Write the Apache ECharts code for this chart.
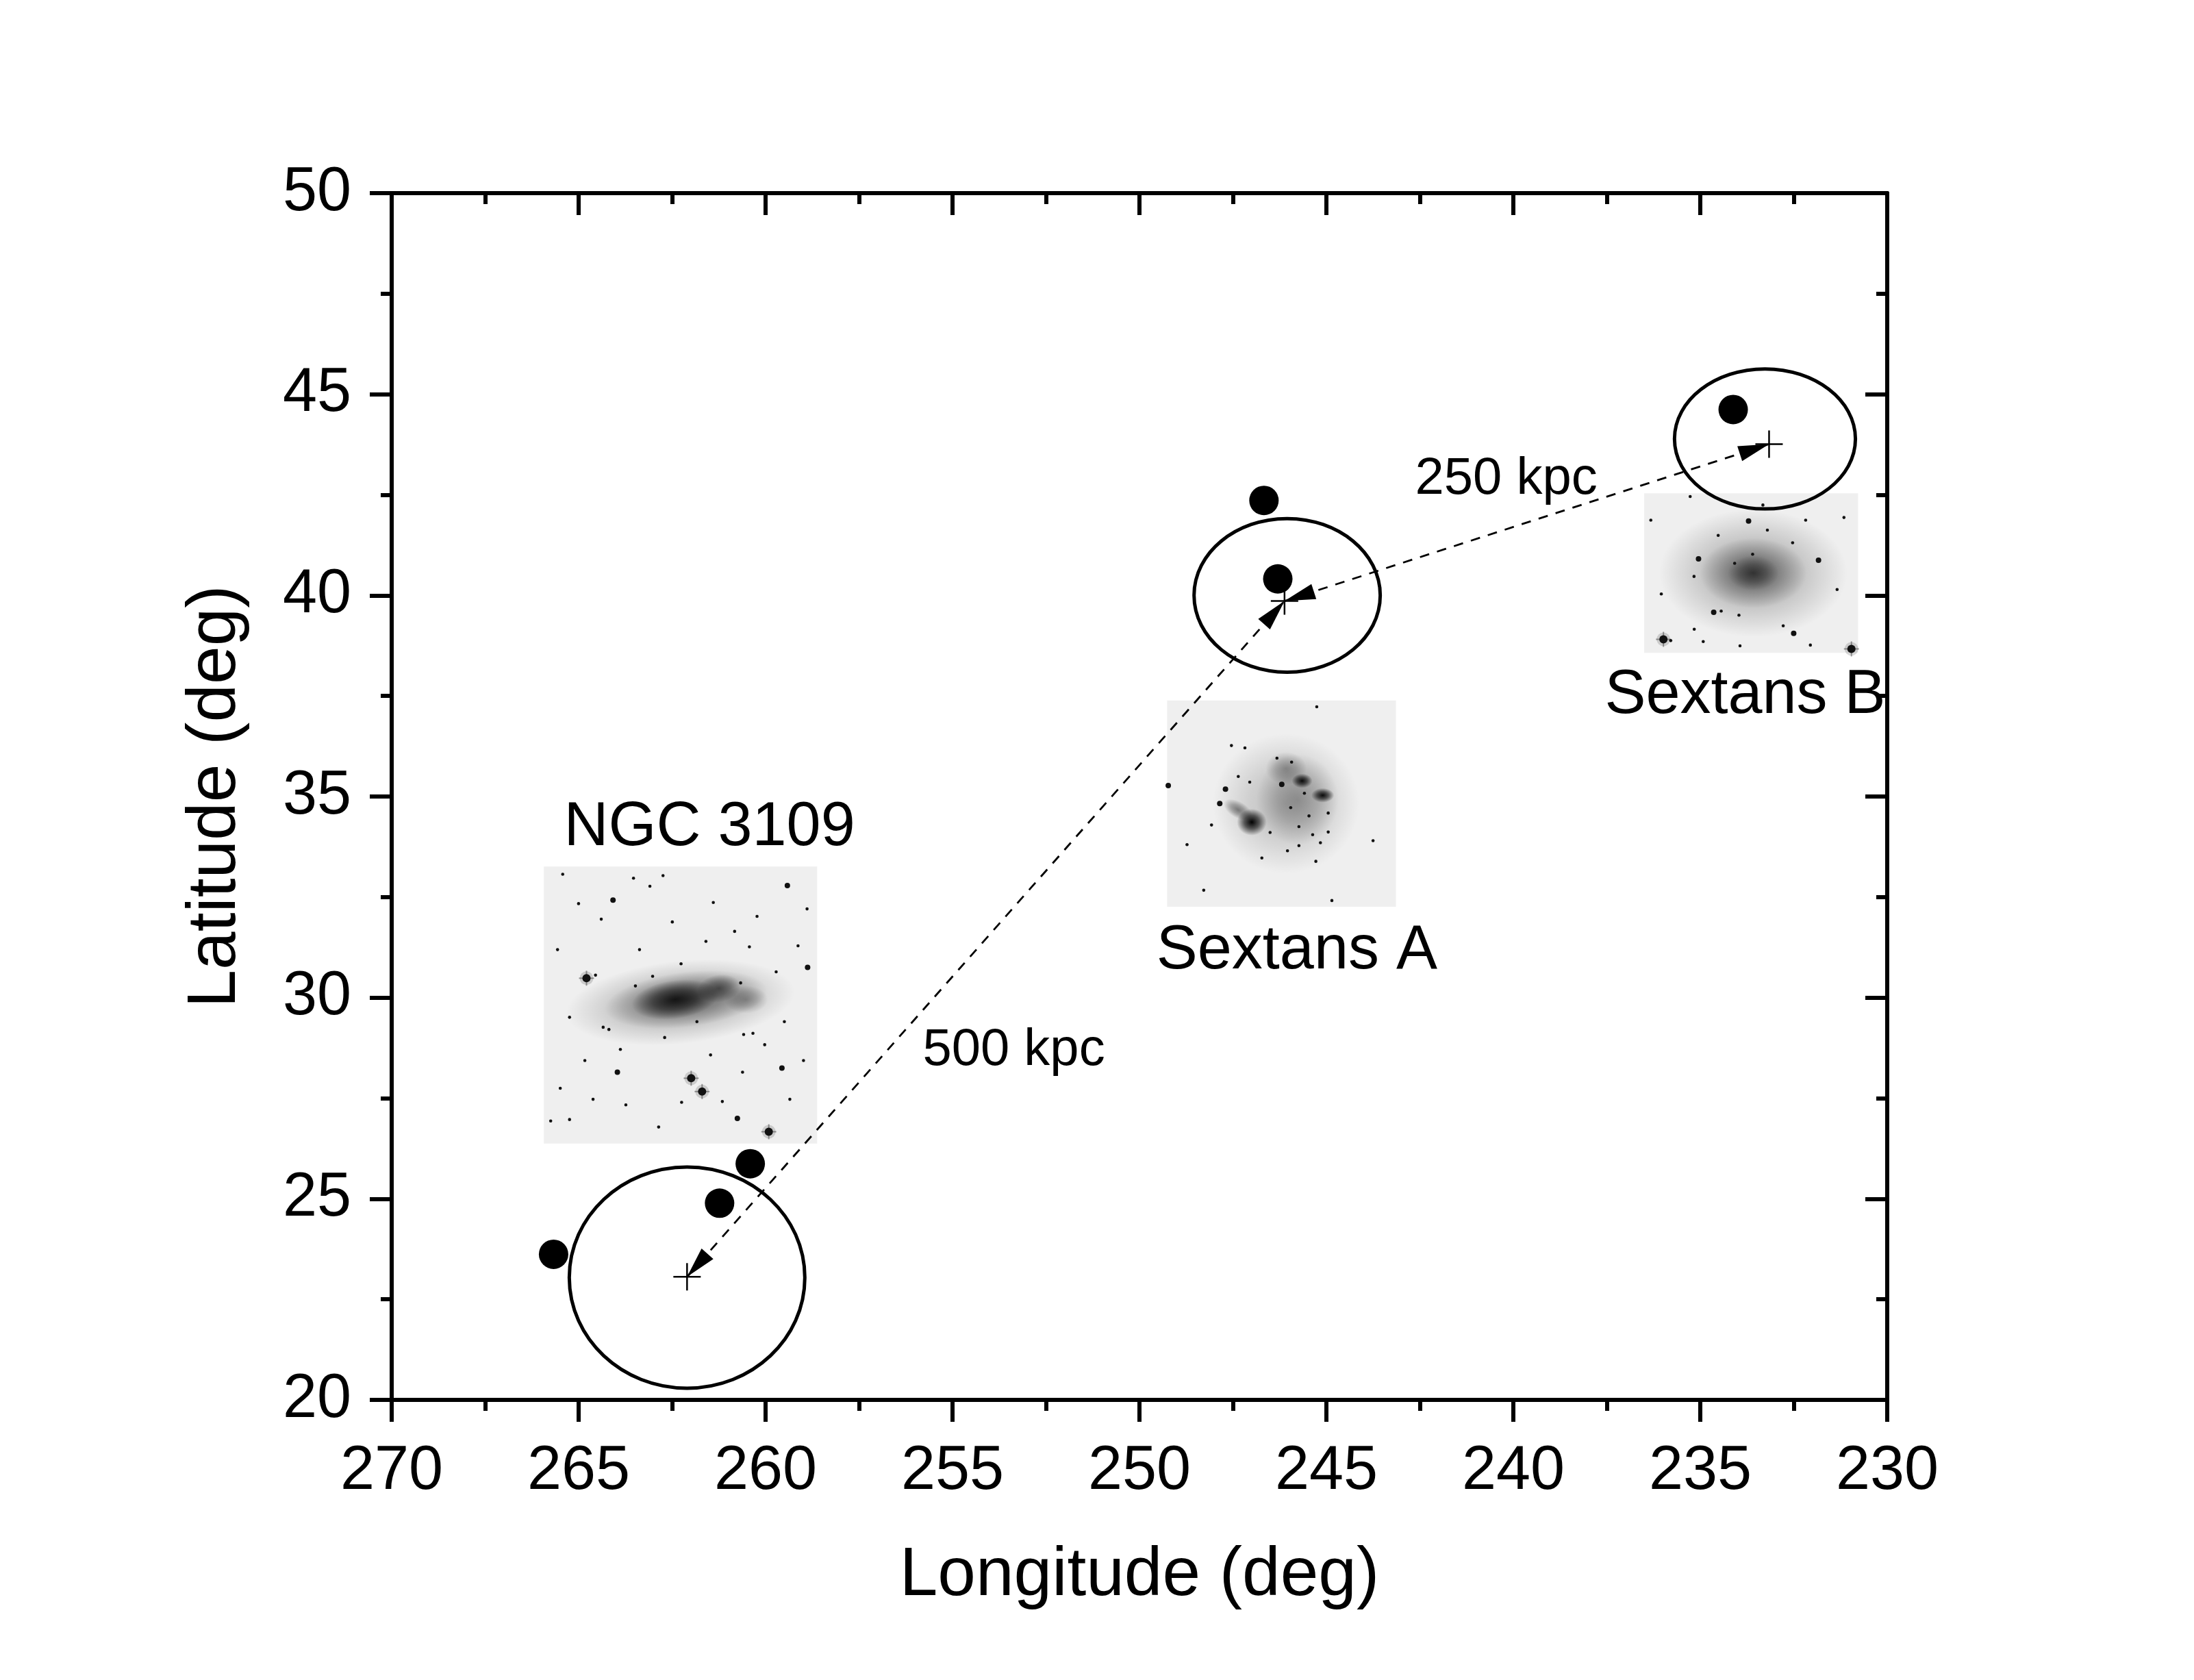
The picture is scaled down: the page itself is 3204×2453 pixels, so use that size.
<!DOCTYPE html>
<html>
<head>
<meta charset="utf-8">
<title>NGC 3109 / Sextans A / Sextans B</title>
<script src="https://cdn.jsdelivr.net/npm/echarts@6/dist/echarts.min.js"></script>
<style>
html, body { margin: 0; padding: 0; background: #fff; }
#chart { width: 3204px; height: 2453px; }
</style>
</head>
<body>
<div id="chart"></div>
<script>
// ---- data ----
var lonMin = 230, lonMax = 270;
var latMin = 20, latMax = 50;

// galaxy names and their centre crosses
var galaxyNames = ['NGC 3109', 'Sextans A', 'Sextans B'];
var crossLon = [262.10, 246.12, 233.16];
var crossLat = [23.06, 39.86, 43.76];

// error ellipses (centre and half axes, in degrees)
var ellLon = [262.10, 246.05, 233.27];
var ellLat = [23.04, 40.00, 43.89];
var ellRLon = [3.15, 2.49, 2.42];
var ellRLat = [2.75, 1.91, 1.74];

// filled dots
var dotLon = [265.67, 261.23, 260.41, 246.67, 246.30, 234.12];
var dotLat = [23.62, 24.89, 25.87, 42.36, 40.41, 44.62];

// distance arrows (between crosses)
var arrowFrom = [0, 1];
var arrowTo = [1, 2];
var arrowText = ['500 kpc', '250 kpc'];
var arrowTextLon = [253.36, 240.19];
var arrowTextLat = [28.79, 42.98];

// galaxy name labels
var nameLon = [261.50, 245.79, 233.80];
var nameLat = [34.33, 31.27, 37.62];

// image frames
var imgLonL = [265.93, 249.26, 236.50];
var imgLonR = [258.62, 243.14, 230.78];
var imgLatT = [33.26, 37.39, 42.54];
var imgLatB = [26.37, 32.26, 38.57];

// galaxy light inside each frame: [fx, fy, rx, ry, rot, alpha]
var ngcBlobs = [
    [0.50, 0.49, 0.42, 0.15, 6, 0.30],
    [0.52, 0.48, 0.30, 0.10, 7, 0.45],
    [0.48, 0.48, 0.16, 0.07, 8, 0.80],
    [0.64, 0.44, 0.08, 0.05, 10, 0.50],
    [0.74, 0.48, 0.08, 0.05, 0, 0.30]
];
var sexABlobs = [
    [0.52, 0.50, 0.32, 0.34, 0, 0.22],
    [0.57, 0.48, 0.18, 0.22, 0, 0.28],
    [0.52, 0.33, 0.09, 0.08, 0, 0.30],
    [0.37, 0.59, 0.065, 0.065, 0, 1.0],
    [0.31, 0.53, 0.07, 0.04, -30, 0.45],
    [0.59, 0.39, 0.045, 0.035, 0, 0.95],
    [0.68, 0.46, 0.05, 0.035, 0, 0.95]
];
var sexBBlobs = [
    [0.51, 0.50, 0.44, 0.40, 0, 0.30],
    [0.51, 0.50, 0.25, 0.22, 0, 0.45],
    [0.51, 0.50, 0.12, 0.11, 0, 0.45]
];

// field stars inside each frame: [fx, fy, size]
var ngcStars = [
    [0.156, 0.403, 3], [0.189, 0.392, 1], [0.539, 0.764, 3], [0.579, 0.812, 3], [0.823, 0.957, 3],
    [0.708, 0.909, 2], [0.871, 0.727, 2], [0.653, 0.848, 1], [0.269, 0.742, 2], [0.891, 0.069, 2],
    [0.253, 0.121, 2], [0.069, 0.028, 1], [0.965, 0.364, 2], [0.593, 0.270, 1], [0.930, 0.286, 1],
    [0.217, 0.580, 1], [0.238, 0.588, 1], [0.765, 0.602, 1], [0.731, 0.606, 1], [0.335, 0.431, 1],
    [0.094, 0.544, 1], [0.094, 0.913, 1], [0.808, 0.643, 1], [0.442, 0.617, 1], [0.698, 0.234, 1],
    [0.752, 0.290, 1], [0.328, 0.042, 1], [0.388, 0.071, 1], [0.436, 0.033, 1], [0.502, 0.351, 1],
    [0.398, 0.396, 1], [0.963, 0.153, 1], [0.127, 0.134, 1], [0.727, 0.742, 1], [0.504, 0.851, 1],
    [0.025, 0.918, 1], [0.210, 0.190, 1], [0.620, 0.130, 1], [0.850, 0.380, 1], [0.300, 0.860, 1],
    [0.900, 0.840, 1], [0.150, 0.700, 1], [0.560, 0.560, 1], [0.420, 0.940, 1], [0.050, 0.300, 1],
    [0.350, 0.300, 1], [0.780, 0.180, 1], [0.610, 0.680, 1], [0.880, 0.560, 1], [0.180, 0.840, 1],
    [0.470, 0.200, 1], [0.950, 0.700, 1], [0.720, 0.420, 1], [0.280, 0.660, 1], [0.060, 0.800, 1]
];
var sexAStars = [
    [0.654, 0.031, 1], [0.005, 0.413, 2], [0.087, 0.699, 1], [0.281, 0.219, 1], [0.194, 0.604, 1],
    [0.414, 0.764, 1], [0.230, 0.500, 2], [0.255, 0.430, 2], [0.311, 0.369, 1], [0.361, 0.396, 1],
    [0.544, 0.299, 1], [0.501, 0.407, 2], [0.704, 0.546, 1], [0.704, 0.638, 1], [0.576, 0.612, 1],
    [0.576, 0.704, 1], [0.636, 0.651, 1], [0.526, 0.729, 1], [0.900, 0.680, 1], [0.160, 0.920, 1],
    [0.720, 0.970, 1], [0.340, 0.230, 1], [0.670, 0.690, 1], [0.480, 0.280, 1], [0.620, 0.560, 1],
    [0.450, 0.640, 1], [0.650, 0.780, 1], [0.540, 0.520, 1], [0.600, 0.450, 1]
];
var sexBStars = [
    [0.488, 0.174, 2], [0.254, 0.411, 2], [0.815, 0.420, 2], [0.507, 0.382, 1], [0.325, 0.746, 2],
    [0.360, 0.738, 1], [0.699, 0.877, 2], [0.650, 0.830, 1], [0.090, 0.915, 3], [0.124, 0.923, 1],
    [0.969, 0.975, 3], [0.346, 0.264, 1], [0.576, 0.231, 1], [0.031, 0.169, 1], [0.234, 0.852, 1],
    [0.443, 0.764, 1], [0.555, 0.074, 1], [0.934, 0.152, 1], [0.694, 0.310, 1], [0.902, 0.603, 1],
    [0.276, 0.929, 1], [0.777, 0.951, 1], [0.215, 0.021, 1], [0.080, 0.631, 1], [0.448, 0.956, 1],
    [0.233, 0.521, 1], [0.423, 0.439, 1], [0.755, 0.169, 1]
];
var imgBlobs = [ngcBlobs, sexABlobs, sexBBlobs];
var imgStars = [ngcStars, sexAStars, sexBStars];

// ---- chart ----
var FONT = "'Liberation Sans', Arial, Helvetica, sans-serif";
var myChart = echarts.init(document.getElementById('chart'));

function makeAxis(pos, isX) {
    var inner = (pos === 'top' || pos === 'right');
    var a = {
        type: 'value',
        position: pos,
        min: isX ? lonMin : latMin,
        max: isX ? lonMax : latMax,
        interval: 5,
        inverse: isX,
        axisLine: { show: true, onZero: false, lineStyle: { color: '#000', width: 6 } },
        axisTick: { show: true, inside: inner, length: 32, lineStyle: { color: '#000', width: 6 } },
        minorTick: { show: true, splitNumber: 2, length: 16, lineStyle: { color: '#000', width: 6 } },
        splitLine: { show: false },
        minorSplitLine: { show: false },
        axisLabel: { show: !inner, fontSize: 90, color: '#000', fontFamily: FONT, margin: isX ? 60 : 59 }
    };
    if (!inner) {
        a.name = isX ? 'Longitude (deg)' : 'Latitude (deg)';
        a.nameLocation = 'middle';
        a.nameGap = isX ? 207 : 207;
        a.nameTextStyle = { fontSize: 100, color: '#000', fontFamily: FONT };
    }
    return a;
}

// galaxy pictures
function renderImage(params, api) {
    var i = params.dataIndex;
    var p0 = api.coord([api.value(0), api.value(1)]);
    var p1 = api.coord([api.value(2), api.value(3)]);
    var x = Math.min(p0[0], p1[0]), y = Math.min(p0[1], p1[1]);
    var w = Math.abs(p1[0] - p0[0]), h = Math.abs(p1[1] - p0[1]);
    var children = [{
        type: 'rect',
        shape: { x: x, y: y, width: w, height: h },
        style: { fill: '#efefef' }
    }];
    imgBlobs[i].forEach(function (b) {
        var a = b[5];
        children.push({
            type: 'circle',
            shape: { cx: 0, cy: 0, r: 100 },
            x: x + b[0] * w,
            y: y + b[1] * h,
            scaleX: b[2] * w / 100,
            scaleY: b[3] * h / 100,
            rotation: b[4] * Math.PI / 180,
            style: {
                fill: {
                    type: 'radial', x: 0.5, y: 0.5, r: 0.5,
                    colorStops: [
                        { offset: 0, color: 'rgba(0,0,0,' + a + ')' },
                        { offset: 0.5, color: 'rgba(0,0,0,' + (a * 0.6) + ')' },
                        { offset: 1, color: 'rgba(0,0,0,0)' }
                    ]
                }
            }
        });
    });
    imgStars[i].forEach(function (s) {
        var cx = x + s[0] * w, cy = y + s[1] * h;
        var r = s[2] === 3 ? 6 : (s[2] === 2 ? 4 : 2.3);
        if (s[2] === 3) {
            children.push({ type: 'line', shape: { x1: cx - 11, y1: cy, x2: cx + 11, y2: cy }, style: { stroke: 'rgba(0,0,0,0.35)', lineWidth: 2 } });
            children.push({ type: 'line', shape: { x1: cx, y1: cy - 11, x2: cx, y2: cy + 11 }, style: { stroke: 'rgba(0,0,0,0.35)', lineWidth: 2 } });
            children.push({ type: 'circle', shape: { cx: cx, cy: cy, r: 10 }, style: { fill: 'rgba(0,0,0,0.15)' } });
        }
        children.push({ type: 'circle', shape: { cx: cx, cy: cy, r: r }, style: { fill: '#111' } });
    });
    return { type: 'group', children: children };
}

function renderEllipse(params, api) {
    var c = api.coord([api.value(0), api.value(1)]);
    var rx = api.size([api.value(2), 0])[0];
    var ry = api.size([0, api.value(3)])[1];
    return {
        type: 'ellipse',
        shape: { cx: c[0], cy: c[1], rx: rx, ry: ry },
        style: { fill: null, stroke: '#000', lineWidth: 5 }
    };
}

function headPoints(tip, tail) {
    var dx = tip[0] - tail[0], dy = tip[1] - tail[1];
    var len = Math.sqrt(dx * dx + dy * dy);
    var ux = dx / len, uy = dy / len;
    var L = 45, W = 23;
    var bx = tip[0] - ux * L, by = tip[1] - uy * L;
    return [tip, [bx - uy * W / 2, by + ux * W / 2], [bx + uy * W / 2, by - ux * W / 2]];
}

function renderArrow(params, api) {
    var p1 = api.coord([api.value(0), api.value(1)]);
    var p2 = api.coord([api.value(2), api.value(3)]);
    return {
        type: 'group',
        children: [
            { type: 'line', shape: { x1: p1[0], y1: p1[1], x2: p2[0], y2: p2[1] },
              style: { stroke: '#000', lineWidth: 2.8, lineDash: [14, 12] } },
            { type: 'polygon', shape: { points: headPoints(p1, p2) }, style: { fill: '#000' } },
            { type: 'polygon', shape: { points: headPoints(p2, p1) }, style: { fill: '#000' } }
        ]
    };
}

function renderCross(params, api) {
    var c = api.coord([api.value(0), api.value(1)]);
    var s = 20;
    return {
        type: 'group',
        children: [
            { type: 'line', shape: { x1: c[0] - s, y1: c[1], x2: c[0] + s, y2: c[1] }, style: { stroke: '#000', lineWidth: 2.5 } },
            { type: 'line', shape: { x1: c[0], y1: c[1] - s, x2: c[0], y2: c[1] + s }, style: { stroke: '#000', lineWidth: 2.5 } }
        ]
    };
}

function textRenderer(texts, size) {
    return function (params, api) {
        var c = api.coord([api.value(0), api.value(1)]);
        return {
            type: 'text',
            x: c[0],
            y: c[1] + size * 0.08,
            style: {
                text: texts[params.dataIndex],
                fill: '#000',
                fontSize: size,
                fontFamily: FONT,
                align: 'center',
                verticalAlign: 'middle'
            }
        };
    };
}

var option = {
    animation: false,
    backgroundColor: '#fff',
    grid: { left: 572, top: 282, width: 2184, height: 1762 },
    xAxis: [makeAxis('bottom', true), makeAxis('top', true)],
    yAxis: [makeAxis('left', false), makeAxis('right', false)],
    series: [
        {
            type: 'custom', name: 'images', renderItem: renderImage,
            encode: { x: [0, 2], y: [1, 3] },
            data: galaxyNames.map(function (n, i) { return [imgLonL[i], imgLatT[i], imgLonR[i], imgLatB[i]]; }),
            z: 1, silent: true
        },
        {
            type: 'custom', name: 'ellipses', renderItem: renderEllipse,
            encode: { x: 0, y: 1 },
            data: galaxyNames.map(function (n, i) { return [ellLon[i], ellLat[i], ellRLon[i], ellRLat[i]]; }),
            z: 2, silent: true
        },
        {
            type: 'custom', name: 'arrows', renderItem: renderArrow,
            encode: { x: [0, 2], y: [1, 3] },
            data: arrowFrom.map(function (f, i) {
                var t = arrowTo[i];
                return [crossLon[f], crossLat[f], crossLon[t], crossLat[t]];
            }),
            z: 3, silent: true
        },
        {
            type: 'custom', name: 'crosses', renderItem: renderCross,
            encode: { x: 0, y: 1 },
            data: crossLon.map(function (v, i) { return [v, crossLat[i]]; }),
            z: 4, silent: true
        },
        {
            type: 'scatter', name: 'dots',
            symbol: 'circle', symbolSize: 43,
            itemStyle: { color: '#000', opacity: 1 },
            data: dotLon.map(function (v, i) { return [v, dotLat[i]]; }),
            z: 5, silent: true
        },
        {
            type: 'custom', name: 'distance labels', renderItem: textRenderer(arrowText, 76),
            encode: { x: 0, y: 1 },
            data: arrowText.map(function (t, i) { return [arrowTextLon[i], arrowTextLat[i]]; }),
            z: 6, silent: true
        },
        {
            type: 'custom', name: 'galaxy labels', renderItem: textRenderer(galaxyNames, 90),
            encode: { x: 0, y: 1 },
            data: galaxyNames.map(function (t, i) { return [nameLon[i], nameLat[i]]; }),
            z: 6, silent: true
        }
    ]
};

myChart.setOption(option);

window.addEventListener('resize', function () {
    myChart.resize();
});
</script>
</body>
</html>
